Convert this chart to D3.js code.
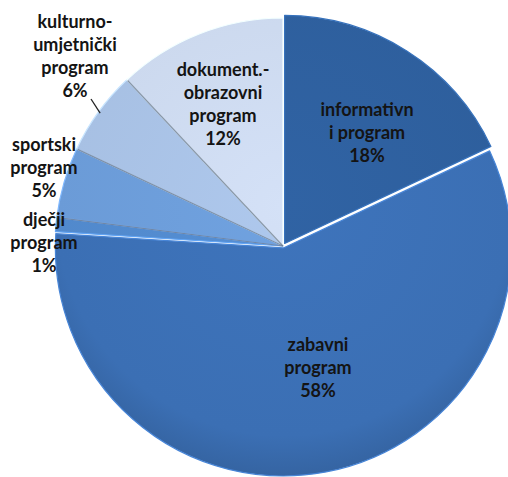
<!DOCTYPE html>
<html>
<head>
<meta charset="utf-8">
<script src="https://cdn.jsdelivr.net/npm/d3@7"></script>
<style>
  body { margin: 0; background: #fff; }
  text { font-family: Lato, "Open Sans", sans-serif; font-weight: bold; fill: #141414; }
</style>
</head>
<body>
<div id="chart"></div>
<script>
var width = 508,
    height = 477;

// data, in drawing order (clockwise from 12 o'clock)
var categories = ["informativni program", "zabavni program", "dječji program",
                  "sportski program", "kulturno-umjetnički program", "dokument.-obrazovni program"];
var values = [18, 58, 1, 5, 6, 12];
var labelLines = [
  ["informativn", "i program", "18%"],
  ["zabavni", "program", "58%"],
  ["dječji", "program", "1%"],
  ["sportski", "program", "5%"],
  ["kulturno-", "umjetnički", "program", "6%"],
  ["dokument.-", "obrazovni", "program", "12%"]
];
var colors = ["#2e5f9d", "#3b6fb4", "#5189cc", "#6b9bd7", "#a7c0e3", "#cbd8ed"];

var cx = 283, cy = 246, r = 228;
var lineH = 23;

var svg = d3.select("#chart")
  .append("svg")
  .attr("width", width)
  .attr("height", height);

var defs = svg.append("defs");
colors.forEach(function(c, i) {
  var g = defs.append("radialGradient")
    .attr("id", "grad" + i)
    .attr("gradientUnits", "userSpaceOnUse")
    .attr("cx", 0).attr("cy", -40).attr("r", r + 40);
  g.append("stop").attr("offset", "0%").attr("stop-color", d3.color(c).brighter(0.12));
  g.append("stop").attr("offset", "85%").attr("stop-color", c);
  g.append("stop").attr("offset", "100%").attr("stop-color", d3.color(c).darker(0.3));
});

var pie = d3.pie().sort(null).value(function(d) { return d; });
var arcs = pie(values);

var arc = d3.arc().innerRadius(0).outerRadius(r);

var g = svg.append("g").attr("transform", "translate(" + cx + "," + cy + ")");

// slight explode for first two slices
var explode = [3, 2, 0, 0, 0, 0];

g.selectAll(".slice")
  .data(arcs)
  .enter().append("path")
  .attr("class", "slice")
  .attr("transform", function(d, i) {
    var a = (d.startAngle + d.endAngle) / 2;
    return "translate(" + (Math.sin(a) * explode[i]) + "," + (-Math.cos(a) * explode[i]) + ")";
  })
  .attr("d", arc)
  .attr("fill", function(d, i) { return "url(#grad" + i + ")"; })
  .attr("stroke", function(d, i) { return d3.color(colors[i]).brighter(0.5); })
  .attr("stroke-width", 1.2)
  .attr("stroke-linejoin", "round");

// grey shadow edges between the small slices on the left
g.selectAll(".sep")
  .data(arcs.slice(3))
  .enter().append("line")
  .attr("class", "sep")
  .attr("x1", 0).attr("y1", 0)
  .attr("x2", function(d) { return Math.sin(d.startAngle) * (r - 1); })
  .attr("y2", function(d) { return -Math.cos(d.startAngle) * (r - 1); })
  .attr("stroke", "#6d7c92")
  .attr("stroke-opacity", 0.8)
  .attr("stroke-width", 1.2);

// label anchor positions (centre of first line), in page coordinates
var labelPos = [[367, 116], [318, 351], [44, 226], [44, 151], [75, 28], [223, 76]];

svg.selectAll(".lbl")
  .data(labelLines)
  .enter().append("text")
  .attr("class", "lbl")
  .attr("text-anchor", "middle")
  .attr("font-size", 18)
  .each(function(lines, i) {
    var t = d3.select(this);
    lines.forEach(function(s, k) {
      t.append("tspan")
        .attr("x", labelPos[i][0])
        .attr("y", labelPos[i][1] + k * lineH)
        .text(s);
    });
  });

// leader line for kulturno-umjetnički
var kArc = arcs[4];
var ka = (kArc.startAngle + kArc.endAngle) / 2;
svg.append("line")
  .attr("x1", 91).attr("y1", 99)
  .attr("x2", cx + Math.sin(ka) * (r - 2)).attr("y2", cy - Math.cos(ka) * (r - 2))
  .attr("stroke", "#222")
  .attr("stroke-width", 1.3);
</script>
</body>
</html>
